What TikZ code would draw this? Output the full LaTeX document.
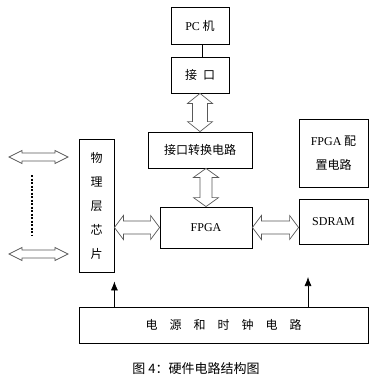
\documentclass[tikz,border=0pt]{standalone}
\usepackage{fontspec}
\setmainfont{Liberation Serif}
\newfontfamily\cjk{Noto Sans CJK SC}
\usetikzlibrary{calc,arrows.meta}

% hollow double arrow: from, to, head length, head half width, shaft half width
\newcommand{\dblarrow}[5]{%
  \path ($(#1)!#3!(#2)$) coordinate (ha) ($(#2)!#3!(#1)$) coordinate (hb);
  \draw[arrowline] (#1) -- ($(ha)!#4!90:(#2)$) -- ($(ha)!#5!90:(#2)$)
    -- ($(hb)!#5!-90:(#1)$) -- ($(hb)!#4!-90:(#1)$) -- (#2)
    -- ($(hb)!#4!90:(#1)$) -- ($(hb)!#5!90:(#1)$)
    -- ($(ha)!#5!-90:(#2)$) -- ($(ha)!#4!-90:(#2)$) -- cycle;
}

\tikzset{
  blk/.style={draw, line width=0.8pt, inner sep=0pt, align=center,
    font=\cjk\fontsize{12}{14}\selectfont},
  arrowline/.style={draw=black!65, line width=0.7pt, fill=white},
  powerline/.style={line width=0.7pt, -{Latex[length=9pt,width=7pt]}}
}

\begin{document}
\begin{tikzpicture}[x=1pt,y=-1pt]
\useasboundingbox (0,0) rectangle (378,380);

    % boxes
    \node[blk, minimum width=58pt, minimum height=37pt] (pc) at (200,25.5) {{\rmfamily PC} 机};
    \node[blk, minimum width=58pt, minimum height=36pt] (jk) at (200,75) {接\hspace{6pt}口};
    \node[blk, minimum width=104pt, minimum height=36pt] (conv) at (200,150) {接口转换电路};
    \node[blk, minimum width=92pt, minimum height=41pt] (fpga) at (206,227.5) {\rmfamily FPGA};
    \node[blk, minimum width=69pt, minimum height=45pt] (sdram) at (333.5,221.5) {\rmfamily SDRAM};
    \node[blk, minimum width=69pt, minimum height=68pt,
      font=\cjk\fontsize{12}{24}\selectfont] (cfg) at (333.5,153) {{\rmfamily FPGA} 配\\置电路};
    \node[blk, minimum width=35pt, minimum height=133pt,
      font=\cjk\fontsize{12}{24}\selectfont] (phy) at (96.5,205.5) {物\\理\\层\\芯\\片};
    \node[blk, minimum width=289pt, minimum height=36pt] (power) at (223.5,325)
      {电\hspace{12pt}源\hspace{12pt}和\hspace{12pt}时\hspace{12pt}钟\hspace{12pt}电\hspace{12pt}路};

    % caption
    \node[font=\cjk\fontsize{13}{15}\selectfont] (caption) at (196,369) {图 4：硬件电路结构图};

    % PC to interface
    \draw[line width=0.8pt] ($(pc.south)+(2,0)$) -- ($(jk.north)+(2,0)$);

    % wide arrows
    \dblarrow{jk.south}{conv.north}{10pt}{12.5pt}{7.5pt}
    \coordinate (cv) at (fpga.north |- conv.south);
    \dblarrow{cv}{fpga.north}{9pt}{12.5pt}{6pt}
    \coordinate (pf) at (phy.east |- fpga.west);
    \dblarrow{pf}{fpga.west}{9pt}{12pt}{6.5pt}
    \coordinate (sf) at (sdram.west |- fpga.east);
    \dblarrow{fpga.east}{sf}{9pt}{12pt}{6.5pt}

    % ports on the left
    \coordinate (l1a) at (9,157);
    \coordinate (l1b) at (68,157);
    \coordinate (l2a) at (9,254);
    \coordinate (l2b) at (68,254);
    \dblarrow{l1a}{l1b}{13pt}{6.5pt}{4pt}
    \dblarrow{l2a}{l2b}{13pt}{6.5pt}{4pt}
    \coordinate (dtop) at (32,175);
    \coordinate (dbot) at (32,236);
    \draw[line width=2.5pt, dash pattern=on 2pt off 1.5pt] (dtop) -- (dbot);

    % power feeds
    \coordinate (phypin) at ($(phy.south east)+(0,9)$);
    \coordinate (sdpin) at (308,277);
    \draw[powerline] (power.north -| phypin) -- (phypin);
    \draw[powerline] (power.north -| sdpin) -- (sdpin);

\end{tikzpicture}
\end{document}
